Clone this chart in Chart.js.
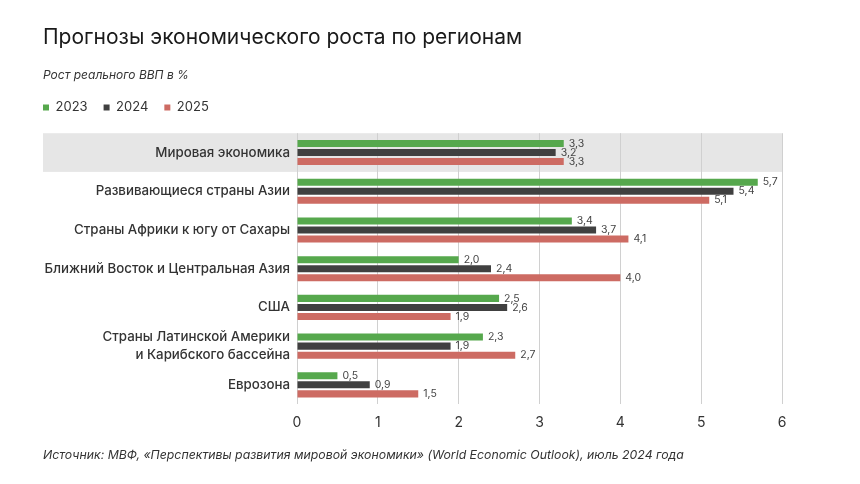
<!DOCTYPE html>
<html>
<head>
<meta charset="utf-8">
<script src="https://cdn.jsdelivr.net/npm/chart.js@4.4.1/dist/chart.umd.min.js"></script>
<style>
  body { margin: 0; background: #fff; font-family: Inter, "Noto Sans", sans-serif; }
  #wrap { position: relative; width: 860px; height: 484px; }
  #title { position: absolute; left: 43px; top: 24px; font-size: 21px; color: #1a1a1a; }
  #subtitle { position: absolute; left: 43px; top: 67px; font-size: 12px; font-style: italic; color: #333; }
  #source { position: absolute; left: 43px; top: 447px; font-size: 12.3px; font-style: italic; color: #333; }
  canvas { position: absolute; left: 0; top: 0; }
</style>
</head>
<body>
<div id="wrap">
  <canvas id="chart" width="860" height="484"></canvas>
  <div id="title">Прогнозы экономического роста по регионам</div>
  <div id="subtitle">Рост реального ВВП в %</div>
  <div id="source">Источник: МВФ, «Перспективы развития мировой экономики» (World Economic Outlook), июль 2024 года</div>
</div>
<script>
const regions = [
    'Мировая экономика',
    'Развивающиеся страны Азии',
    'Страны Африки к югу от Сахары',
    'Ближний Восток и Центральная Азия',
    'США',
    ['Страны Латинской Америки', 'и Карибского бассейна'],
    'Еврозона'
];
const years = ['2023', '2024', '2025'];
const growth2023 = [3.3, 5.7, 3.4, 2.0, 2.5, 2.3, 0.5];
const growth2024 = [3.2, 5.4, 3.7, 2.4, 2.6, 1.9, 0.9];
const growth2025 = [3.3, 5.1, 4.1, 4.0, 1.9, 2.7, 1.5];
const xTicks = [0, 1, 2, 3, 4, 5, 6];

const colors = ['#56a84d', '#404040', '#cd6b63'];
const legendGap = 16;

// grey band behind the first row (world economy)
const highlightRow = {
    id: 'highlightRow',
    beforeDraw(chart) {
        const { ctx, chartArea, scales } = chart;
        const y = scales.y;
        const step = y.getPixelForValue(1) - y.getPixelForValue(0);
        const cy = y.getPixelForValue(0);
        ctx.save();
        ctx.fillStyle = '#e6e6e6';
        ctx.fillRect(y.left, cy - step / 2, chartArea.right - y.left, step);
        ctx.restore();
    }
};

// pull the legend back to the left margin (it starts after one padding)
const legendShift = {
    id: 'legendShift',
    afterLayout(chart) {
        chart.legend.left -= legendGap;
    }
};

// value labels at the end of each bar
const valueLabels = {
    id: 'valueLabels',
    afterDatasetsDraw(chart) {
        const { ctx } = chart;
        ctx.save();
        ctx.font = '10.5px Inter, sans-serif';
        ctx.fillStyle = '#444';
        ctx.textBaseline = 'middle';
        chart.data.datasets.forEach((ds, i) => {
            chart.getDatasetMeta(i).data.forEach((bar, j) => {
                const txt = ds.data[j].toFixed(1).replace('.', ',');
                ctx.fillText(txt, bar.x + 5, bar.y);
            });
        });
        ctx.restore();
    }
};

new Chart(document.getElementById('chart'), {
    type: 'bar',
    data: {
        labels: regions,
        datasets: [
            { label: years[0], data: growth2023, backgroundColor: colors[0] },
            { label: years[1], data: growth2024, backgroundColor: colors[1] },
            { label: years[2], data: growth2025, backgroundColor: colors[2] }
        ]
    },
    options: {
        indexAxis: 'y',
        responsive: false,
        animation: false,
        categoryPercentage: 0.7,
        barPercentage: 0.78,
        layout: { padding: { left: 43, right: 78, top: 85, bottom: 43 } },
        plugins: {
            legend: {
                position: 'top',
                align: 'start',
                labels: {
                    boxWidth: 6,
                    boxHeight: 6,
                    padding: legendGap,
                    color: '#333',
                    font: { family: 'Inter', size: 13 }
                }
            },
            // empty spacer between legend and plot
            subtitle: {
                display: true,
                text: '',
                weight: 900,
                font: { size: 1 },
                padding: { top: 8, bottom: 0 }
            },
            tooltip: { enabled: false }
        },
        scales: {
            x: {
                min: 0,
                max: 6,
                afterBuildTicks: (scale) => { scale.ticks = xTicks.map(v => ({ value: v })); },
                grid: { color: '#d0d0d0', drawTicks: false },
                border: { display: false },
                ticks: {
                    color: '#333',
                    padding: 10,
                    font: { family: 'Inter', size: 14 }
                }
            },
            y: {
                grid: { display: false, drawTicks: false },
                border: { display: false },
                afterFit: (scale) => { scale.width = 254; },
                ticks: {
                    autoSkip: false,
                    color: '#333',
                    padding: 7,
                    font: { family: 'Inter', size: 13.3, weight: 500, lineHeight: 1.36 }
                }
            }
        }
    },
    plugins: [highlightRow, legendShift, valueLabels]
});
</script>
</body>
</html>
